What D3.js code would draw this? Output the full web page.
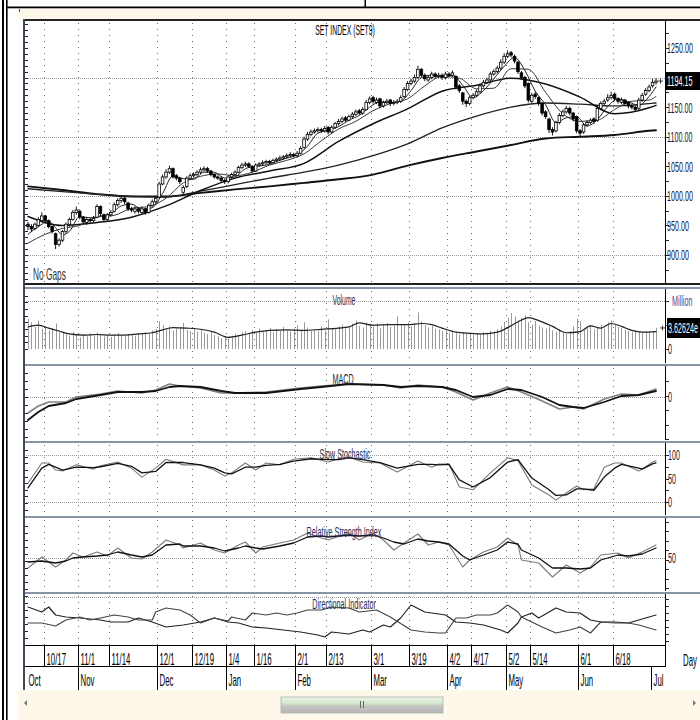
<!DOCTYPE html>
<html><head><meta charset="utf-8"><title>SET INDEX (SET9)</title>
<script src="https://cdn.jsdelivr.net/npm/d3@7/dist/d3.min.js"></script>
<style>
html,body{margin:0;padding:0;background:#fff;}
svg{display:block;}
text{font-family:"Liberation Sans",Arial,"DejaVu Sans",sans-serif;}
</style></head><body>
<svg id="chart" width="700" height="720"></svg>
<script>
// ---------------- DATA ----------------
const opens=[952,948,945,950,958,966,958,948,936,918,
925,940,952,960,972,974,964,955,960,958,
964,982,968,960,968,974,985,992,996,988,
978,974,978,972,978,972,984,990,998,1020,
1032,1040,1046,1034,1030,1006,1016,1030,1034,1036,
1040,1044,1046,1042,1036,1032,1030,1026,1024,1032,
1036,1040,1048,1052,1054,1050,1042,1052,1054,1056,
1058,1056,1060,1062,1064,1066,1068,1070,1068,1072,
1082,1096,1104,1108,1110,1112,1110,1116,1108,1116,
1122,1126,1132,1128,1134,1138,1144,1140,1146,1158,
1166,1158,1164,1152,1158,1162,1156,1158,1160,1168,
1180,1190,1194,1200,1214,1204,1196,1200,1206,1202,
1204,1200,1206,1204,1202,1186,1174,1160,1156,1166,
1170,1176,1186,1192,1196,1206,1210,1216,1226,1236,
1242,1236,1226,1208,1200,1190,1160,1172,1166,1156,
1142,1130,1112,1110,1124,1136,1142,1148,1140,1134,
1110,1108,1120,1124,1130,1128,1148,1156,1162,1166,
1172,1164,1158,1162,1158,1152,1150,1148,1162,1172,
1178,1186,1192];
const highs=[956,952,955,964,972,968,960,950,938,928,
942,955,963,976,982,977,966,964,963,966,
986,984,970,971,976,989,996,1000,999,990,
981,982,980,982,980,987,994,1000,1024,1036,
1045,1051,1048,1037,1032,1018,1033,1038,1040,1043,
1048,1050,1049,1044,1038,1035,1033,1029,1035,1039,
1043,1051,1056,1058,1057,1052,1055,1057,1060,1061,
1061,1063,1065,1068,1069,1072,1074,1073,1076,1084,
1100,1108,1112,1114,1116,1115,1118,1118,1119,1125,
1130,1134,1135,1137,1142,1146,1147,1150,1162,1168,
1169,1166,1166,1161,1164,1164,1162,1164,1170,1184,
1194,1198,1205,1220,1216,1207,1204,1210,1209,1208,
1207,1210,1209,1212,1204,1189,1176,1163,1169,1174,
1180,1190,1196,1200,1210,1214,1220,1231,1241,1246,
1245,1239,1228,1211,1203,1192,1174,1176,1168,1158,
1145,1132,1116,1127,1140,1146,1152,1151,1142,1136,
1113,1123,1128,1131,1133,1152,1160,1164,1172,1176,
1175,1167,1166,1164,1160,1155,1153,1166,1174,1182,
1188,1198,1199];
const lows=[942,940,942,947,955,954,945,936,910,914,
922,937,948,958,968,960,952,951,954,955,
962,966,956,957,965,972,982,988,986,974,
972,970,970,969,968,970,981,987,996,1018,
1029,1037,1029,1026,1020,1002,1013,1027,1031,1033,
1037,1041,1039,1033,1029,1027,1023,1020,1021,1029,
1033,1038,1045,1049,1047,1039,1040,1049,1051,1053,
1053,1054,1057,1059,1061,1063,1065,1065,1065,1070,
1080,1093,1101,1105,1107,1106,1107,1104,1106,1113,
1119,1123,1125,1126,1131,1135,1137,1137,1144,1155,
1156,1155,1148,1149,1155,1152,1153,1155,1157,1165,
1177,1187,1191,1198,1200,1194,1193,1197,1198,1199,
1196,1197,1200,1201,1180,1174,1154,1150,1153,1163,
1167,1173,1183,1189,1193,1203,1207,1213,1223,1233,
1234,1224,1206,1196,1182,1158,1157,1164,1152,1136,
1130,1106,1102,1107,1121,1133,1139,1136,1126,1106,
1100,1105,1117,1121,1122,1125,1145,1153,1159,1163,
1160,1156,1155,1152,1148,1146,1142,1145,1159,1169,
1175,1183,1188];
const closes=[948,944,952,960,966,958,948,940,918,925,
940,952,960,972,976,964,956,960,958,962,
982,970,960,968,972,985,992,996,990,978,
976,978,974,978,972,984,990,996,1020,1032,
1040,1046,1032,1030,1024,1014,1030,1034,1036,1040,
1044,1046,1042,1036,1032,1030,1026,1024,1032,1036,
1040,1048,1052,1054,1050,1042,1052,1054,1056,1058,
1056,1060,1062,1064,1066,1068,1070,1068,1072,1080,
1096,1104,1108,1110,1112,1110,1114,1108,1116,1122,
1126,1130,1128,1134,1138,1142,1140,1146,1158,1164,
1160,1162,1152,1158,1160,1156,1158,1160,1166,1180,
1190,1194,1200,1214,1204,1198,1200,1206,1202,1204,
1200,1206,1204,1208,1184,1178,1160,1156,1166,1170,
1176,1186,1192,1196,1206,1210,1216,1226,1236,1240,
1238,1228,1210,1200,1186,1162,1170,1168,1156,1140,
1134,1112,1108,1124,1136,1142,1148,1140,1130,1110,
1106,1120,1124,1128,1126,1148,1156,1160,1166,1170,
1164,1160,1162,1156,1152,1150,1146,1162,1170,1178,
1184,1192,1194.15];
const lastClose=1194.15;

// moving averages (sampled at bar indices)
const ma5Idx=[0,3,6,8,10,12,15,18,21,24,27,30,33,36,39,42,45,48,51,54,57,60,63,66,69,72,75,78,81,84,87,90,93,96,99,102,105,108,111,114,117,120,123,126,129,132,135,138,141,144,147,150,153,156,159,162,165,168,171,174,177,180,182];
const ma5=[935,948,957,946,934,940,965,963,966,970,983,986,977,980,1004,1034,1029,1028,1040,1040,1030,1032,1046,1050,1052,1058,1064,1069,1084,1106,1111,1117,1128,1136,1150,1159,1158,1160,1178,1200,1204,1202,1204,1187,1166,1178,1198,1219,1234,1212,1177,1154,1124,1132,1134,1118,1129,1151,1164,1159,1153,1168,1184];
const ma10Idx=[0,5,10,15,20,25,30,35,40,45,50,55,60,65,70,75,80,85,90,95,100,105,110,115,120,125,130,135,140,145,150,155,160,165,170,175,180,182];
const ma10=[920,935,945,950,964,967,979,982,996,1022,1033,1037,1034,1040,1052,1060,1071,1093,1113,1126,1144,1156,1164,1186,1202,1199,1181,1182,1215,1214,1175,1139,1126,1128,1146,1160,1162,1168];
const maLongIdx=[0,10,20,30,40,50,60,70,80,90,100,110,120,130,140,150,160,170,180,182];
const ma25=[965,950,955,964,983,1009,1030,1042,1055,1092,1122,1147,1177,1187,1199,1189,1167,1139,1149,1153];
const ma75=[1012,1007,1003,999,998,1008,1019,1030,1040,1052,1068,1088,1115,1135,1150,1157,1155,1152,1156,1157];
const ma200=[1016,1010,1003,999,999,1005,1011,1016,1022,1028,1036,1051,1064,1075,1086,1097,1100,1103,1110,1111];

// volume (billions)
const volumes=[5.2,4.6,3.8,4.9,3.5,3.9,3.2,3.6,4.4,3.0,
2.8,2.5,2.3,2.9,2.4,2.0,2.6,2.2,2.7,2.3,
2.9,2.6,2.2,2.4,2.1,2.5,2.8,2.3,2.2,2.6,
2.4,2.3,2.7,2.5,2.9,2.6,3.2,3.4,4.8,4.1,
3.6,3.9,3.2,3.5,3.8,4.5,3.3,3.1,3.6,3.0,
3.4,2.8,2.6,3.1,2.4,2.2,1.9,2.1,1.8,2.3,
2.6,2.4,2.9,3.1,2.7,3.3,2.8,3.5,3.0,3.2,
3.6,2.9,3.4,3.1,3.8,3.2,3.0,3.5,4.1,3.3,
4.6,3.7,3.1,3.4,3.0,3.9,3.2,5.1,3.6,3.4,
3.9,4.2,3.5,3.8,4.4,4.9,4.0,3.7,4.6,4.3,
3.9,4.4,3.6,4.1,4.5,3.8,4.0,5.6,4.3,4.2,
4.6,3.9,4.4,6.3,4.8,4.1,3.7,4.0,3.5,3.4,
3.1,3.3,2.8,3.0,2.7,2.5,2.9,2.6,2.8,2.4,
2.7,2.5,2.9,2.6,3.2,3.0,3.4,3.9,4.7,5.4,
6.2,5.6,4.9,5.3,5.8,4.6,4.2,4.8,4.0,3.7,
3.5,3.9,3.2,3.0,3.4,2.8,2.6,3.1,3.9,5.2,
4.8,3.3,3.6,4.1,3.4,3.8,4.2,3.5,4.6,4.9,
4.1,3.8,3.6,3.3,3.1,2.9,3.2,3.0,2.8,3.0,
2.9,3.1,3.62624];
const volMaIdx=[0,3,6,9,12,16,20,24,28,32,36,39,42,46,50,54,58,62,66,70,75,80,85,90,93,96,100,105,110,114,117,120,124,128,132,136,140,143,145,148,152,156,160,163,166,169,172,175,178,182];
const volMa=[3.8,4.1,3.6,3.1,2.6,2.4,2.5,2.4,2.4,2.6,2.8,3.3,3.7,3.6,3.4,2.9,2.0,2.4,2.9,3.2,3.3,3.2,3.4,3.6,3.8,4.5,4.1,4.2,4.2,4.4,4.2,3.6,2.9,2.7,2.6,2.9,4.0,5.0,5.4,4.9,3.9,2.8,3.0,4.0,3.6,4.4,3.9,3.2,2.9,3.0];
const lastVolumeLabel="3.62624e";

// MACD
const macdIdx=[0,3,6,11,14,21,26,33,37,41,44,50,56,60,69,79,85,93,103,108,113,120,124,129,134,139,143,149,154,158,161,167,172,177,182];
const macdFast=[-16,-9,-5,-5,0,3,6,4,7,13,11,9,4,4,5,9,11,13,12,9,12,10,5,-3,4,10,5,-4,-12,-10,-12,-2,3,2,8];
const macdSignal=[-23,-15,-9,-6,-2,2,5,5,6,10,11,10,6,4,4,8,10,13,12,10,11,10,7,0,2,8,7,0,-8,-10,-11,-5,1,2,6];

// Slow stochastic
const stochIdx=[0,4,6,8,10,14,19,21,26,30,33,37,40,45,50,54,57,59,63,66,69,73,77,82,87,90,93,97,102,107,113,117,119,122,125,129,134,139,142,146,151,153,156,159,161,164,167,170,172,177,178,181,182];
const stochK=[40,83,83,68,66,79,70,77,85,72,53,72,91,79,79,68,55,62,83,68,83,79,91,94,85,92,96,85,83,64,87,74,81,81,32,26,62,94,88,36,15,4,19,34,26,28,74,83,83,66,70,85,88];
const stochD=[30,72,80,74,68,74,73,75,82,76,62,65,84,84,79,72,62,60,74,74,78,80,87,92,90,90,94,90,84,72,80,80,79,80,47,32,52,85,90,51,26,14,15,28,28,25,53,72,80,72,70,81,83];

// RSI
const rsiIdx=[0,4,8,11,13,16,20,23,26,30,33,36,40,44,45,50,54,57,61,63,66,68,73,77,81,85,87,93,96,100,103,106,109,113,116,119,122,126,128,132,136,139,142,143,148,152,156,160,163,166,171,174,178,182];
const rsiLine=[40,51,41,48,55,51,56,52,60,50,49,56,68,63,60,65,58,55,63,66,55,61,65,68,75,70,68,75,68,75,68,58,65,74,63,66,63,41,48,56,61,70,63,48,45,31,43,35,41,53,55,50,56,63];
const rsiAvg=[46,47,45,47,50,51,52,53,56,53,51,53,63,64,62,62,60,57,60,62,60,59,62,65,71,72,71,73,72,73,70,66,64,69,67,66,64,52,48,53,58,66,64,58,50,40,40,39,40,48,53,52,54,60];

// Directional indicator
const diAIdx=[0,4,6,8,11,15,21,24,29,32,36,40,45,50,54,58,61,65,69,74,79,84,86,88,93,97,99,103,105,108,111,115,117,121,124,128,132,137,139,142,143,146,148,153,156,160,163,166,170,174,177,182];
const diA=[38,33,38,30,28,27,25,23,23,27,23,18,20,23,27,23,22,18,17,15,13,10,8,13,11,15,13,20,18,27,40,33,32,30,23,22,20,15,12,22,28,32,27,37,33,32,25,23,23,22,25,30];
const diBIdx=[0,4,8,11,15,18,21,25,29,32,36,37,40,44,47,50,54,58,59,63,65,69,72,75,78,81,85,88,93,96,101,105,111,115,119,121,124,127,130,134,136,139,142,143,146,149,153,157,160,163,166,170,174,177,182];
const diB=[22,22,19,25,28,25,27,30,28,25,25,33,37,35,30,22,27,24,28,25,32,30,32,30,32,35,35,38,37,33,35,28,15,13,12,12,27,27,30,30,32,40,33,28,23,18,12,15,18,12,23,22,22,20,15];

// axis ticks / labels
const priceLabels=[1250,1150,1100,1050,1000,950,900];
const priceGrid=[900,1000,1100,1200];
const dayTickIdx=[5,15,24,38,48,58,66,78,87,100,111,122,129,139,146,160,170];
const dayTickLabels=["10/17","11/1","11/14","12/1","12/19","1/4","1/16","2/1","2/13","3/1","3/19","4/2","4/17","5/2","5/14","6/1","6/18"];
const monthIdx=[0,15,38,58,78,100,122,139,160,181];
const monthLabels=["Oct","Nov","Dec","Jan","Feb","Mar","Apr","May","Jun","Jul"];
const stochLabels=[100,50,0];
const rsiLabels=[50];

// ---------------- LAYOUT ----------------
const svg=d3.select('#chart');
const PX0=25, PX1=665;
const x=d3.scaleLinear().domain([0,closes.length-1]).range([28,656]);
const tickX=i=>Math.round(x(i)-1.7)+0.5;

const yMain=d3.scaleLinear().domain([900,1250]).range([255,48]);
const yVol=d3.scaleLinear().domain([0,8.276]).range([349,301]);
const yMacd=d3.scaleLinear().domain([-43,32]).range([440,365]);
const yStoch=d3.scaleLinear().domain([0,100]).range([502,455]);
const yRsi=d3.scaleLinear().domain([50,80]).range([558,528]);
const yDi=d3.scaleLinear().domain([0,52]).range([645,593]);

const panels=[
 {top:21,bottom:283,y:yMain,minor:d3.range(860,1300,10),right:d3.range(875,1300,25),grid:priceGrid},
 {top:289,bottom:363,y:yVol,minor:d3.range(0,13,1.15),right:[0,4.138,8.276],grid:[8.276]},
 {top:366,bottom:440,y:yMacd,minor:d3.range(-48,36,8),right:d3.range(-42,33,14.5),grid:[0]},
 {top:443,bottom:515,y:yStoch,minor:d3.range(-30,130,14),right:[0,25,50,75,100],grid:[0,100]},
 {top:518,bottom:591,y:yRsi,minor:d3.range(12,100,7),right:d3.range(20,100,9.5),grid:[50]},
 {top:594,bottom:645,y:yDi,minor:d3.range(0,52,7),right:d3.range(4,52,7),grid:[48]}
];

// background and frame
svg.append('rect').attr('width',700).attr('height',720).attr('fill','#fff');
svg.append('rect').attr('x',18).attr('y',9).attr('width',682).attr('height',10).attr('fill','#fdf8e9');
svg.append('rect').attr('x',18).attr('y',690).attr('width',682).attr('height',30).attr('fill','#fdf8e9');
svg.append('rect').attr('x',2).attr('y',0).attr('width',2).attr('height',720).attr('fill','#000');
svg.append('rect').attr('x',6).attr('y',0).attr('width',1.6).attr('height',720).attr('fill','#000');
svg.append('rect').attr('x',6).attr('y',6.5).attr('width',694).attr('height',1.8).attr('fill','#000');
svg.append('rect').attr('x',364.5).attr('y',0).attr('width',1.5).attr('height',7).attr('fill','#000');
svg.append('rect').attr('x',19).attr('y',9).attr('width',1).attr('height',3).attr('fill','#555');

// grids
panels.forEach(p=>{
  p.grid.forEach(v=>{
    const yy=Math.round(p.y(v))+0.5;
    svg.append('line').attr('x1',PX0+1).attr('x2',PX1).attr('y1',yy).attr('y2',yy)
      .attr('stroke','#9c9c9c').attr('stroke-width',1).attr('stroke-dasharray','1,1');
  });
  dayTickIdx.forEach(i=>{
    svg.append('line').attr('x1',tickX(i)).attr('x2',tickX(i)).attr('y1',p.top+2).attr('y2',p.bottom)
      .attr('stroke','#6a6a6a').attr('stroke-width',1).attr('stroke-dasharray','1,5');
  });
});

function series(idx,vals,y,stroke,w,curve){
  const pts=idx.map((d,k)=>[d,vals[k]]);
  svg.append('path').datum(pts)
    .attr('d',d3.line().x(d=>x(d[0])).y(d=>y(d[1])).curve(curve||d3.curveLinear))
    .attr('fill','none').attr('stroke',stroke).attr('stroke-width',w)
    .attr('stroke-linejoin','round').attr('stroke-linecap','round');
}

// ---- main price panel ----
series(maLongIdx,ma200,yMain,'#111',1.9,d3.curveMonotoneX);
series(maLongIdx,ma75,yMain,'#222',1.3,d3.curveMonotoneX);
series(maLongIdx,ma25,yMain,'#111',1.5,d3.curveMonotoneX);
series(ma10Idx,ma10,yMain,'#3a3a3a',1,d3.curveMonotoneX);
series(ma5Idx,ma5,yMain,'#222',1,d3.curveMonotoneX);

const candles=closes.map((c,i)=>({i,o:opens[i],h:highs[i],l:lows[i],c}));
const gC=svg.append('g');
gC.selectAll('line').data(candles).join('line')
  .attr('x1',d=>x(d.i)).attr('x2',d=>x(d.i))
  .attr('y1',d=>yMain(d.h)).attr('y2',d=>yMain(d.l))
  .attr('stroke','#000').attr('stroke-width',0.9);
gC.selectAll('rect').data(candles).join('rect')
  .attr('x',d=>x(d.i)-1.3).attr('width',2.6)
  .attr('y',d=>yMain(Math.max(d.o,d.c)))
  .attr('height',d=>Math.max(yMain(Math.min(d.o,d.c))-yMain(Math.max(d.o,d.c)),0.8))
  .attr('fill',d=>d.c>=d.o?'#fff':'#000').attr('stroke','#000').attr('stroke-width',0.8);

// ---- volume ----
svg.append('g').selectAll('line').data(volumes).join('line')
  .attr('x1',(d,i)=>Math.round(x(i))+0.5).attr('x2',(d,i)=>Math.round(x(i))+0.5)
  .attr('y1',yVol(0)).attr('y2',d=>yVol(d))
  .attr('stroke','#999').attr('stroke-width',1);
series(volMaIdx,volMa,yVol,'#222',1.2,d3.curveMonotoneX);

// ---- MACD ----
series(macdIdx,macdFast,yMacd,'#808080',1.6);
series(macdIdx,macdSignal,yMacd,'#111',1.8);

// ---- Stochastic ----
series(stochIdx,stochK,yStoch,'#7a7a7a',1.1);
series(stochIdx,stochD,yStoch,'#111',1.3);

// ---- RSI ----
series(rsiIdx,rsiLine,yRsi,'#7a7a7a',1.1);
series(rsiIdx,rsiAvg,yRsi,'#111',1.3);

// ---- DI ----
series(diAIdx,diA,yDi,'#222',1.2);
series(diBIdx,diB,yDi,'#444',1.2);

// ---- panel borders, axes ----
svg.append('rect').attr('x',23).attr('y',19).attr('width',677).attr('height',2).attr('fill','#262626');
svg.append('rect').attr('x',23).attr('y',283).attr('width',677).attr('height',2).attr('fill','#1e1e1e');
panels.slice(1).forEach(p=>{
  svg.append('rect').attr('x',23).attr('y',p.top-2).attr('width',677).attr('height',2).attr('fill','#8893a5');
});
svg.append('rect').attr('x',23).attr('y',19).attr('width',2).attr('height',671).attr('fill','#3f4756');

panels.forEach(p=>{
  svg.append('line').attr('x1',PX1+0.5).attr('x2',PX1+0.5).attr('y1',p.top).attr('y2',p.bottom)
    .attr('stroke','#000').attr('stroke-width',1);
  p.minor.forEach(v=>{
    const yy=p.y(v); if(yy<p.top+2||yy>p.bottom-1) return;
    svg.append('line').attr('x1',25).attr('x2',28).attr('y1',Math.round(yy)+0.5).attr('y2',Math.round(yy)+0.5)
      .attr('stroke','#222').attr('stroke-width',1);
  });
  p.right.forEach(v=>{
    const yy=p.y(v); if(yy<p.top+2||yy>p.bottom-1) return;
    svg.append('line').attr('x1',PX1).attr('x2',PX1+4).attr('y1',Math.round(yy)+0.5).attr('y2',Math.round(yy)+0.5)
      .attr('stroke','#222').attr('stroke-width',1);
  });
});

// text helper (labels are horizontally condensed like the reference)
function txt(x0,y0,s,o={}){
  const size=o.size||15, sx=o.sx||0.48;
  return svg.append('text').attr('transform',`translate(${x0},${y0}) scale(${sx},1)`)
    .attr('font-size',size).attr('text-anchor',o.anchor||'start')
    .attr('fill',o.fill||'#1b1b35').text(s);
}

// right labels main
priceLabels.forEach(v=>txt(667,yMain(v)+5.4,v.toFixed(2)));
svg.append('rect').attr('x',666).attr('y',yMain(lastClose)-9).attr('width',34).attr('height',18).attr('fill','#000');
txt(667,yMain(lastClose)+5.4,lastClose.toFixed(2),{fill:'#fff'});
svg.append('path').attr('d',`M658,${yMain(lastClose)}h5M660.5,${yMain(lastClose)-2.5}v5`).attr('stroke','#333').attr('stroke-width',1);

// volume labels
txt(672,306,'Million',{fill:'#4a4aa6'});
const lastVol=volumes[volumes.length-1];
svg.append('rect').attr('x',667).attr('y',yVol(lastVol)-10).attr('width',33).attr('height',20).attr('fill','#000');
txt(668,yVol(lastVol)+5.4,lastVolumeLabel,{fill:'#fff'});
svg.append('path').attr('d',`M660,${yVol(lastVol)}h5M662.5,${yVol(lastVol)-2.5}v5`).attr('stroke','#333').attr('stroke-width',1);
txt(668,yVol(0)+5.4,'0');
txt(668,yMacd(0)+5.4,'0');
stochLabels.forEach(v=>txt(668,yStoch(v)+5.4,String(v)));
rsiLabels.forEach(v=>txt(668,yRsi(v)+5.4,String(v)));

// titles
txt(345,35,'SET INDEX (SET9)',{size:14,sx:0.49,anchor:'middle',fill:'#000'});
txt(33,280,'No Gaps',{size:16,sx:0.52,fill:'#333'});
txt(344,305,'Volume',{size:14,sx:0.49,anchor:'middle',fill:'#2b2f5a'});
txt(343,384,'MACD',{size:15,sx:0.48,anchor:'middle',fill:'#1e1e3a'});
txt(345,459,'Slow Stochastic',{size:15,sx:0.48,anchor:'middle',fill:'#2b2f5a'});
txt(344,537,'Relative Strength Index',{size:15,sx:0.48,anchor:'middle',fill:'#2b2f5a'});
txt(344,609,'Directional Indicator',{size:15,sx:0.48,anchor:'middle',fill:'#2b2f5a'});

// ---- date axis ----
svg.append('line').attr('x1',25).attr('x2',PX1+1).attr('y1',645.5).attr('y2',645.5).attr('stroke','#000');
svg.append('line').attr('x1',25).attr('x2',PX1+1).attr('y1',666.5).attr('y2',666.5).attr('stroke','#000');
svg.append('line').attr('x1',PX1+0.5).attr('x2',PX1+0.5).attr('y1',645).attr('y2',667).attr('stroke','#000');
dayTickIdx.forEach((idx,k)=>{
  svg.append('line').attr('x1',tickX(idx)).attr('x2',tickX(idx)).attr('y1',645).attr('y2',667).attr('stroke','#000');
  txt(tickX(idx)+2,665,dayTickLabels[k],{size:17,sx:0.46,fill:'#000'});
});
monthIdx.forEach((idx,k)=>{
  if(k>0) svg.append('line').attr('x1',tickX(idx)).attr('x2',tickX(idx)).attr('y1',666).attr('y2',690).attr('stroke','#000');
  txt(tickX(idx)+2,686,monthLabels[k],{size:17,sx:0.46,fill:'#000'});
});
txt(683,666,'Day',{size:17,sx:0.46,fill:'#000'});

// ---- scrollbar ----
svg.append('path').attr('d','M27,700 l-3,3 l3,3 z').attr('fill','#777');
svg.append('path').attr('d','M693,700 l3,3 l-3,3 z').attr('fill','#777');
const grad=svg.append('defs').append('linearGradient').attr('id','thumb').attr('x1',0).attr('x2',0).attr('y1',0).attr('y2',1);
grad.append('stop').attr('offset','0%').attr('stop-color','#eef5ea');
grad.append('stop').attr('offset','45%').attr('stop-color','#cfe3c6');
grad.append('stop').attr('offset','55%').attr('stop-color','#c4c4c4');
grad.append('stop').attr('offset','100%').attr('stop-color','#b8b8b8');
svg.append('rect').attr('x',281).attr('y',697).attr('width',162).attr('height',16).attr('fill','url(#thumb)').attr('stroke','#a9b3a6').attr('stroke-width',0.8);
svg.append('path').attr('d','M360.5,701v7M363.5,701v7').attr('stroke','#666').attr('stroke-width',1);
</script>
</body></html>
